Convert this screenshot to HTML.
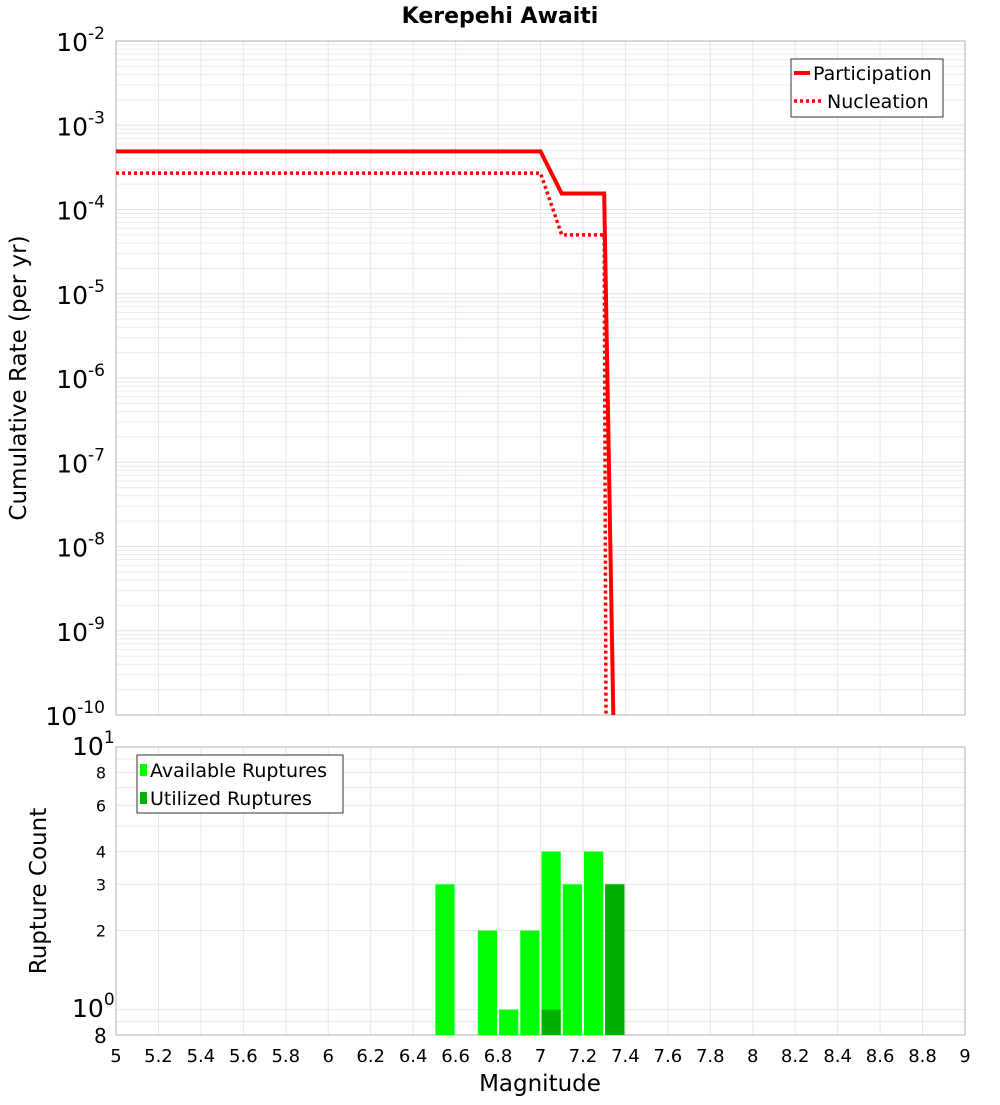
<!DOCTYPE html>
<html><head><meta charset="utf-8"><style>
body{margin:0;background:#fff;}
svg text{font-family:"DejaVu Sans","Liberation Sans",sans-serif;}
</style></head><body>
<svg id="c" width="1000" height="1100" xmlns="http://www.w3.org/2000/svg">
<defs><clipPath id="cp1"><rect x="116" y="41" width="849" height="674"/></clipPath>
<clipPath id="cp2"><rect x="116" y="747" width="849" height="288"/></clipPath></defs>
<text x="500" y="23" text-anchor="middle" font-size="22" font-weight="bold">Kerepehi Awaiti</text>
<g id="g"></g>
</svg>
<script>
const partMags=[5,7.0,7.1,7.3,7.35];
const partRates=[4.9e-4,4.9e-4,1.55e-4,1.55e-4,1e-11];
const nuclMags=[5,7.0,7.1,7.3,7.31];
const nuclRates=[2.7e-4,2.7e-4,5e-5,5e-5,1e-11];
const binCenters=[6.55,6.75,6.85,6.95,7.05,7.15,7.25,7.35];
const availCounts=[3,2,1,2,4,3,4,3];
const usedCounts=[0,0,0,0,1,0,0,3];
const xTicks=[5,5.2,5.4,5.6,5.8,6,6.2,6.4,6.6,6.8,7,7.2,7.4,7.6,7.8,8,8.2,8.4,8.6,8.8,9];
const yExps=[-2,-3,-4,-5,-6,-7,-8,-9,-10];
const NS="http://www.w3.org/2000/svg";
const g=document.getElementById('g');
const X=m=>116+(m-5)/4*849;
const Y1=v=>41+(-2-Math.log10(v))*84.25;
const Y2=v=>747+(1-Math.log10(v))*262.6;
function el(t,a,p){const e=document.createElementNS(NS,t);for(const k in a)e.setAttribute(k,a[k]);(p||g).appendChild(e);return e;}
for(let d=-10;d<-2;d++){for(let k=1;k<10;k++){const y=Y1(k*Math.pow(10,d));
const l=el('line',{x1:116,x2:965,y1:y,y2:y,stroke:k==1?'#e2e2e2':'#ececec','stroke-width':1});

}}
for(const t of xTicks){const x=X(t);
const l=el('line',{x1:x,x2:x,y1:41,y2:715,stroke:'#e8e8e8'});


const l2=el('line',{x1:x,x2:x,y1:747,y2:1035,stroke:'#e8e8e8'});


const tx=el('text',{x:x,y:1062,'text-anchor':'middle','font-size':18});
tx.textContent=String(t);

}
for(const v of [0.9,1,2,3,4,5,6,7,8,9]){const y=Y2(v);
const l=el('line',{x1:116,x2:965,y1:y,y2:y,stroke:'#e8e8e8'});

}
for(const e of yExps){const y=Y1(Math.pow(10,e));
const t=el('text',{x:105,y:y+10,'text-anchor':'end','font-size':25});
t.innerHTML='10<tspan dy="-12" font-size="17">'+e+'</tspan>';

}
const f1=el('rect',{x:116,y:41,width:849,height:674,fill:'none',stroke:'#b0b0b0'});


const f2=el('rect',{x:116,y:747,width:849,height:288,fill:'none',stroke:'#b0b0b0'});


function pts(ms,rs){return ms.map((m,i)=>X(m)+','+Y1(rs[i])).join(' ');}
const pl=el('polyline',{points:pts(partMags,partRates),fill:'none',stroke:'#ff0000','stroke-width':4,'clip-path':'url(#cp1)'});


const nl=el('polyline',{points:pts(nuclMags,nuclRates),fill:'none',stroke:'#ff0000','stroke-width':3.5,'stroke-dasharray':'3,3','clip-path':'url(#cp1)'});


const bw=849/40;
binCenters.forEach((c,i)=>{
const x0=X(c)-bw/2+1;
if(availCounts[i]>0){const b=el('rect',{x:x0,y:Y2(availCounts[i]),width:bw-2,height:1035-Y2(availCounts[i]),fill:'#00ff00','clip-path':'url(#cp2)'});

}
if(usedCounts[i]>0){const b=el('rect',{x:x0,y:Y2(usedCounts[i]),width:bw-2,height:1035-Y2(usedCounts[i]),fill:'#00b000','clip-path':'url(#cp2)'});

}
});
[[2,'2'],[3,'3'],[4,'4'],[6,'6'],[8,'8']].forEach(([v,s])=>{const t=el('text',{x:106,y:Y2(v)+6,'text-anchor':'end','font-size':16});t.textContent=s;

});
</script>
<div style="position:absolute;left:0;top:0;width:1000px;height:1100px;pointer-events:none">
<svg width="1000" height="1100" xmlns="http://www.w3.org/2000/svg">
<text x="72" y="755" font-size="25" font-family="DejaVu Sans,sans-serif">10<tspan dy="-12" font-size="17">1</tspan></text>
<text x="72" y="1017" font-size="25" font-family="DejaVu Sans,sans-serif">10<tspan dy="-12" font-size="17">0</tspan></text>
<text x="94" y="1043" font-size="20" font-family="DejaVu Sans,sans-serif">8</text>
<text transform="translate(26,378) rotate(-90)" text-anchor="middle" font-size="23" font-family="DejaVu Sans,sans-serif">Cumulative Rate (per yr)</text>
<text transform="translate(46,891) rotate(-90)" text-anchor="middle" font-size="23" font-family="DejaVu Sans,sans-serif">Rupture Count</text>
<text x="540" y="1091" text-anchor="middle" font-size="23" font-family="DejaVu Sans,sans-serif">Magnitude</text>
<g>
<rect x="791" y="59" width="152" height="58" fill="#fff" stroke="#333"/>
<line x1="794" y1="73" x2="810" y2="73" stroke="#f00" stroke-width="4"/>
<text x="813" y="80" font-size="19" font-family="DejaVu Sans,sans-serif">Participation</text>
<line x1="794" y1="101" x2="822" y2="101" stroke="#f00" stroke-width="3.5" stroke-dasharray="3,3"/>
<text x="827" y="108" font-size="19" font-family="DejaVu Sans,sans-serif">Nucleation</text>
</g>
<g>
<rect x="137" y="755" width="206" height="58" fill="#fff" stroke="#333"/>
<rect x="140" y="764" width="7" height="12" fill="#00ff00"/>
<text x="150" y="777" font-size="19" font-family="DejaVu Sans,sans-serif">Available Ruptures</text>
<rect x="140" y="792" width="7" height="12" fill="#00b000"/>
<text x="150" y="805" font-size="19" font-family="DejaVu Sans,sans-serif">Utilized Ruptures</text>
</g>
</svg></div>
</body></html>
